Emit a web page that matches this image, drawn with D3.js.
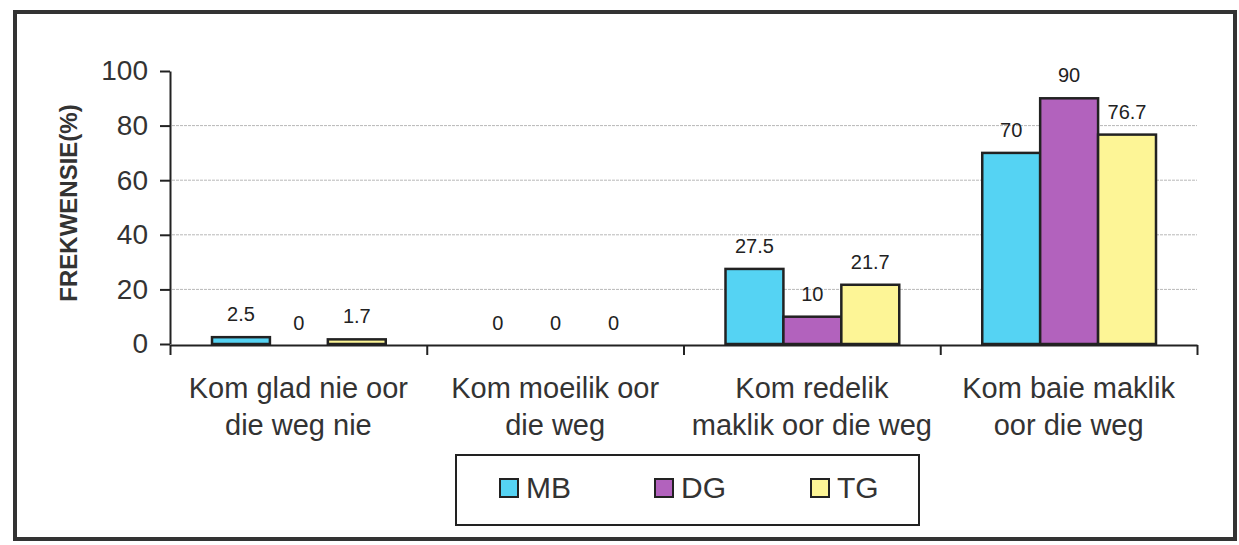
<!DOCTYPE html>
<html>
<head>
<meta charset="utf-8">
<script src="https://cdn.jsdelivr.net/npm/d3@7"></script>
<style>
  body { margin: 0; background: #fff; }
  svg { display: block; font-family: "Liberation Sans", Arial, sans-serif; }
</style>
</head>
<body>
<svg id="chart" width="1239" height="545"></svg>
<script>
var categories = [
    ["Kom glad nie oor", "die weg nie"],
    ["Kom moeilik oor", "die weg"],
    ["Kom redelik", "maklik oor die weg"],
    ["Kom baie maklik", "oor die weg"]
]
var seriesNames = ["MB", "DG", "TG"]
var mbValues = [2.5, 0, 27.5, 70]
var dgValues = [0, 0, 10, 90]
var tgValues = [1.7, 0, 21.7, 76.7]
var yTicks = [0, 20, 40, 60, 80, 100]
var colors = ["#55d3f3", "#b262bd", "#fdf596"]

var series = [mbValues, dgValues, tgValues]

var svg = d3.select('#chart')

// outer frame
svg.append('rect')
    .attr('x', 15).attr('y', 12)
    .attr('width', 1220).attr('height', 527)
    .attr('fill', 'none')
    .attr('stroke', '#333')
    .attr('stroke-width', 4)

var plotLeft = 170, plotRight = 1197, plotTop = 71, plotBottom = 344

var y = d3.scaleLinear().domain([0, 100]).range([plotBottom, plotTop])
var x0 = d3.scaleBand().domain(d3.range(categories.length)).range([plotLeft, plotRight])
var x1 = d3.scaleBand().domain(d3.range(seriesNames.length))
    .range([42, x0.bandwidth() - 41])

// gridlines
svg.selectAll('line.grid')
    .data(yTicks.filter(function(d) { return d > 0 && d < 100 }))
    .enter()
    .append('line')
    .attr('class', 'grid')
    .attr('x1', plotLeft + 2).attr('x2', plotRight)
    .attr('y1', function(d) { return y(d) })
    .attr('y2', function(d) { return y(d) })
    .attr('stroke', '#b8b8b8')
    .attr('stroke-width', 1)
    .attr('stroke-dasharray', '3,1')

// bars
var groups = svg.selectAll('g.cat')
    .data(categories)
    .enter()
    .append('g')
    .attr('class', 'cat')
    .attr('transform', function(d, i) { return 'translate(' + x0(i) + ',0)' })

groups.each(function(c, ci) {
    var g = d3.select(this)
    var vals = series.map(function(s) { return s[ci] })
    g.selectAll('rect')
        .data(vals)
        .enter()
        .append('rect')
        .attr('x', function(d, i) { return x1(i) })
        .attr('y', function(d) { return y(d) })
        .attr('width', x1.bandwidth())
        .attr('height', function(d) { return plotBottom - y(d) })
        .attr('fill', function(d, i) { return colors[i] })
        .attr('stroke', '#222')
        .attr('stroke-width', 2.5)
    g.selectAll('text')
        .data(vals)
        .enter()
        .append('text')
        .attr('x', function(d, i) { return x1(i) + x1.bandwidth() / 2 })
        .attr('y', function(d) { return y(d) - (d === 0 ? 14 : 16) })
        .attr('text-anchor', 'middle')
        .attr('font-size', 20)
        .attr('fill', '#222')
        .text(function(d) { return d })
})

// y axis
var yAxis = d3.axisLeft(y).tickValues(yTicks).tickSize(10).tickSizeOuter(0).tickPadding(12)
var ya = svg.append('g')
    .attr('transform', 'translate(' + plotLeft + ',0)')
    .call(yAxis)
ya.select('.domain').attr('stroke', '#222').attr('stroke-width', 2)
ya.selectAll('.tick line').attr('stroke', '#222').attr('stroke-width', 2)
ya.selectAll('.tick text')
    .attr('font-size', 28)
    .attr('font-family', '"Liberation Sans", Arial, sans-serif')
    .attr('fill', '#333')

// x axis, ticks on category boundaries
var xb = d3.scaleLinear().domain([0, categories.length]).range([plotLeft, plotRight])
var xAxis = d3.axisBottom(xb).tickValues(d3.range(categories.length + 1))
    .tickSize(10).tickSizeOuter(0).tickFormat('')
var xa = svg.append('g')
    .attr('transform', 'translate(0,' + (plotBottom + 1) + ')')
    .call(xAxis)
xa.select('.domain').attr('stroke', '#222').attr('stroke-width', 2)
xa.selectAll('.tick line').attr('stroke', '#222').attr('stroke-width', 2)

// category labels
var catText = svg.selectAll('text.cat')
    .data(categories)
    .enter()
    .append('text')
    .attr('class', 'cat')
    .attr('text-anchor', 'middle')
    .attr('font-size', 29)
    .attr('fill', '#333')
catText.selectAll('tspan')
    .data(function(d, i) { return d.map(function(l) { return { line: l, i: i } }) })
    .enter()
    .append('tspan')
    .attr('x', function(d) { return x0(d.i) + x0.bandwidth() / 2 })
    .attr('y', function(d, j) { return 398 + j * 37 })
    .text(function(d) { return d.line })

// y title
svg.append('text')
    .attr('transform', 'translate(77,203) rotate(-90)')
    .attr('text-anchor', 'middle')
    .attr('font-size', 24)
    .attr('font-weight', 'bold')
    .attr('fill', '#333')
    .text('FREKWENSIE(%)')

// legend
svg.append('rect')
    .attr('x', 456).attr('y', 455)
    .attr('width', 463).attr('height', 70)
    .attr('fill', '#fff')
    .attr('stroke', '#222')
    .attr('stroke-width', 2)

var legendX = [500, 655, 811]
var leg = svg.selectAll('g.leg')
    .data(seriesNames)
    .enter()
    .append('g')
    .attr('class', 'leg')
    .attr('transform', function(d, i) { return 'translate(' + legendX[i] + ',479)' })
leg.append('rect')
    .attr('width', 18).attr('height', 18)
    .attr('fill', function(d, i) { return colors[i] })
    .attr('stroke', '#222')
    .attr('stroke-width', 2)
leg.append('text')
    .attr('x', 26).attr('y', 19)
    .attr('font-size', 30)
    .attr('fill', '#333')
    .text(function(d) { return d })
</script>
</body>
</html>
